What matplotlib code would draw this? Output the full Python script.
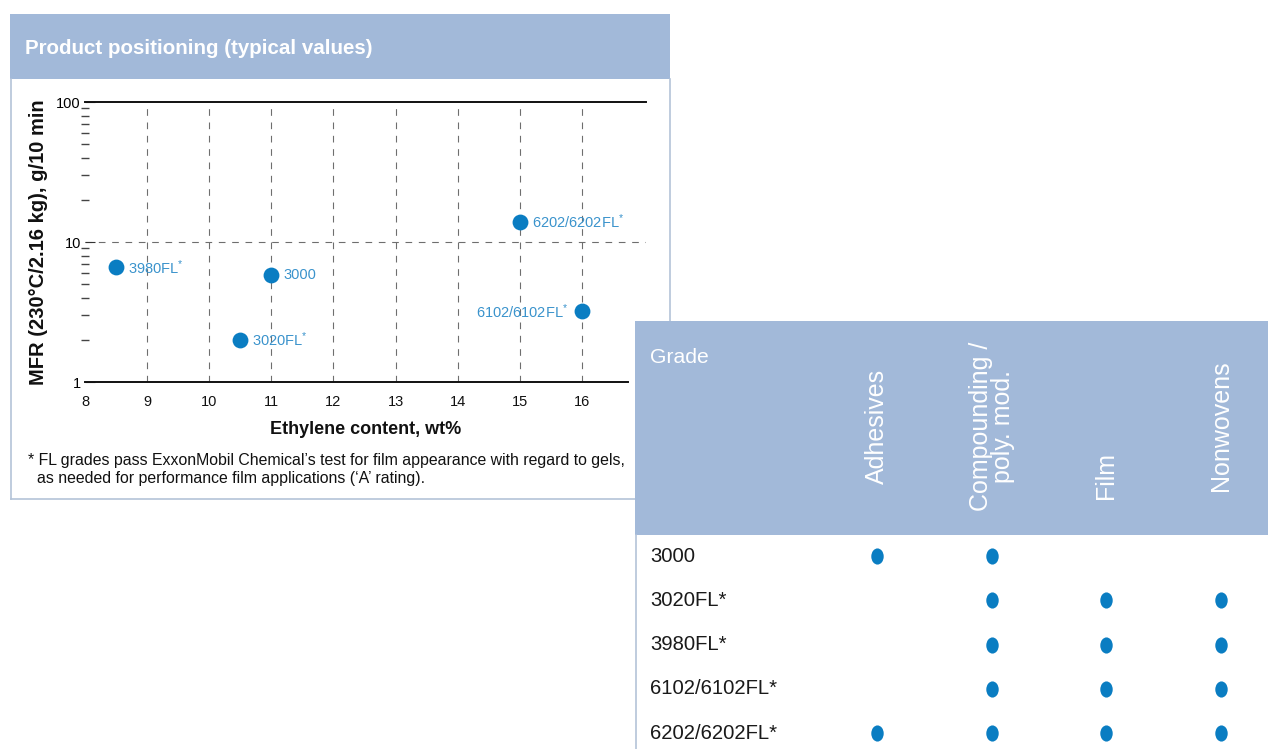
import matplotlib
matplotlib.use("Agg")
import matplotlib.pyplot as plt
from matplotlib.markers import MarkerStyle
from matplotlib.transforms import Affine2D
from matplotlib.ticker import FixedLocator, NullFormatter

# ---- data -------------------------------------------------------------
grades = ["3980FL", "3000", "3020FL", "6202/6202FL", "6102/6102FL"]
ethylene_wt = [8.5, 11.0, 10.5, 15.0, 16.0]
mfr = [6.6, 5.8, 2.0, 14.0, 3.2]
film_grade = [True, False, True, True, True]
label_side = ["right", "right", "right", "right", "left"]

x_ticks = [8, 9, 10, 11, 12, 13, 14, 15, 16]
y_major = [1, 10, 100]
y_minor = [2, 3, 4, 5, 6, 7, 8, 9, 20, 30, 40, 50, 60, 70, 80, 90]

table_grades = ["3000", "3020FL*", "3980FL*", "6102/6102FL*", "6202/6202FL*"]
applications = ["Adhesives", "Compounding /\npoly. mod.", "Film", "Nonwovens"]
suitability = [
    [1, 1, 0, 0],
    [0, 1, 1, 1],
    [0, 1, 1, 1],
    [0, 1, 1, 1],
    [1, 1, 1, 1],
]

# ---- style ------------------------------------------------------------
W, H = 1268, 749
HEADER = "#a2b9d9"
BORDER = "#b4c3d8"
DOT = "#0a7dc2"
LABEL = "#3a93cc"
REGULAR = ["Liberation Sans", "DejaVu Sans"]

plt.rcParams["font.family"] = REGULAR
plt.rcParams["mathtext.fontset"] = "custom"
plt.rcParams["mathtext.rm"] = "Liberation Sans"
plt.rcParams["mathtext.it"] = "Liberation Sans"


def box(x0, y0, x1, y1):
    return [x0 / W, 1 - y1 / H, (x1 - x0) / W, (y1 - y0) / H]


fig = plt.figure(figsize=(W / 100, H / 100), dpi=100)

# ---- panel frame, title and footnote (pixel coordinates) -------------
bg = fig.add_axes([0, 0, 1, 1])
bg.set_xlim(0, W)
bg.set_ylim(H, 0)
bg.axis("off")
bg.add_patch(plt.Rectangle((10, 14), 660, 65, color=HEADER, lw=0))
bg.plot([10.5, 10.5], [79, 498.5], color=BORDER, lw=1.2)
bg.plot([10.5, 640], [498.5, 498.5], color=BORDER, lw=1.2)
bg.plot([669.5, 669.5], [79, 330], color=BORDER, lw=1.2)
bg.text(25, 48, "Product positioning (typical values)", color="white",
        fontsize=14.8, fontweight="bold", va="center", ha="left")
bg.text(28, 461, "* FL grades pass ExxonMobil Chemical\u2019s test for film appearance with regard to gels,",
        fontsize=11.45, va="center", ha="left", color="#111111")
bg.text(37, 479, "as needed for performance film applications (\u2018A\u2019 rating).",
        fontsize=11.45, va="center", ha="left", color="#111111")

# ---- scatter chart ----------------------------------------------------
x_right = 8 + (646 - 85) / 62.1
ax = fig.add_axes(box(85, 102, 646, 382))
ax.set_facecolor("none")
ax.set_yscale("log")
ax.set_xlim(8, x_right)
ax.set_ylim(1, 100)

for s in ("left", "right"):
    ax.spines[s].set_visible(False)
for s in ("top", "bottom"):
    ax.spines[s].set_color("#111111")
    ax.spines[s].set_linewidth(1.4)
ax.spines["bottom"].set_bounds(8, 16.75)

grid_kw = dict(color="#6e6e6e", lw=0.8, linestyle=(0, (6, 6)), zorder=1)
ax.vlines(x_ticks[1:], 1, 100, **grid_kw)
ax.axhline(10, **grid_kw)

ax.set_xticks(x_ticks)
ax.set_xticklabels([str(t) for t in x_ticks])
ax.tick_params(axis="x", length=0, pad=9, labelsize=10.5, labelcolor="#111111")

ax.yaxis.set_major_locator(FixedLocator(y_major))
ax.yaxis.set_minor_locator(FixedLocator(y_minor))
ax.yaxis.set_minor_formatter(NullFormatter())
ax.set_yticklabels([str(t) for t in y_major])
ax.tick_params(axis="y", which="major", direction="in", length=7, width=0.8,
               pad=3, labelsize=10.5, color="#333333")
ax.tick_params(axis="y", which="minor", direction="inout", length=6, width=1.0,
               color="#444444")

ax.scatter(ethylene_wt, mfr, s=130, color=DOT, zorder=3, linewidths=0)
for name, x, y, fl, side in zip(grades, ethylene_wt, mfr, film_grade, label_side):
    txt = name + (r"$^{*}$" if fl else "")
    dx = 8.5 if side == "right" else -9.5
    ax.annotate(txt, (x, y), xytext=(dx, 0), textcoords="offset points",
                ha="left" if side == "right" else "right", va="center",
                fontsize=10.5, color=LABEL, zorder=4)

ax.set_xlabel("Ethylene content, wt%", fontsize=13, fontweight="bold",
              labelpad=9, color="#111111")
ax.set_ylabel("MFR (230\u00b0C/2.16 kg), g/10 min", fontsize=14.5,
              fontweight="bold", labelpad=6, color="#111111")

# ---- application table ------------------------------------------------
tb = fig.add_axes(box(635, 321, W, H))
tb.set_xlim(635, W)
tb.set_ylim(H, 321)
tb.axis("off")
tb.add_patch(plt.Rectangle((635, 321), W - 635, H - 321, color="white", lw=0, zorder=0))
tb.add_patch(plt.Rectangle((635, 321), W - 635, 214, color=HEADER, lw=0, zorder=1))
tb.plot([635.6, 635.6], [535, H], color=BORDER, lw=1.2, zorder=2)

col_x0, col_step = 877, 114.7
row_y0, row_step = 556, 44.3
head_y = [426, 426, 475, 426]

tb.text(650, 357, "Grade", color="white", fontsize=15.2,
        ha="left", va="center", zorder=3)
for i, (app, hy) in enumerate(zip(applications, head_y)):
    tb.text(col_x0 + i * col_step, hy, app, rotation=90, color="white",
            fontsize=18, ha="center", va="center", multialignment="center",
            linespacing=0.9, zorder=3)

dot_marker = MarkerStyle("o", transform=Affine2D().scale(1.0, 1.3))
for r, (g, row) in enumerate(zip(table_grades, suitability)):
    y = row_y0 + r * row_step
    tb.text(650, y, g, fontsize=14.6, ha="left", va="center",
            color="#1a1a1a", zorder=3)
    xs = [col_x0 + c * col_step for c, v in enumerate(row) if v]
    tb.scatter(xs, [y] * len(xs), marker=dot_marker, s=80, color=DOT,
               linewidths=0, zorder=3)

fig.savefig("out.png", dpi=100)
